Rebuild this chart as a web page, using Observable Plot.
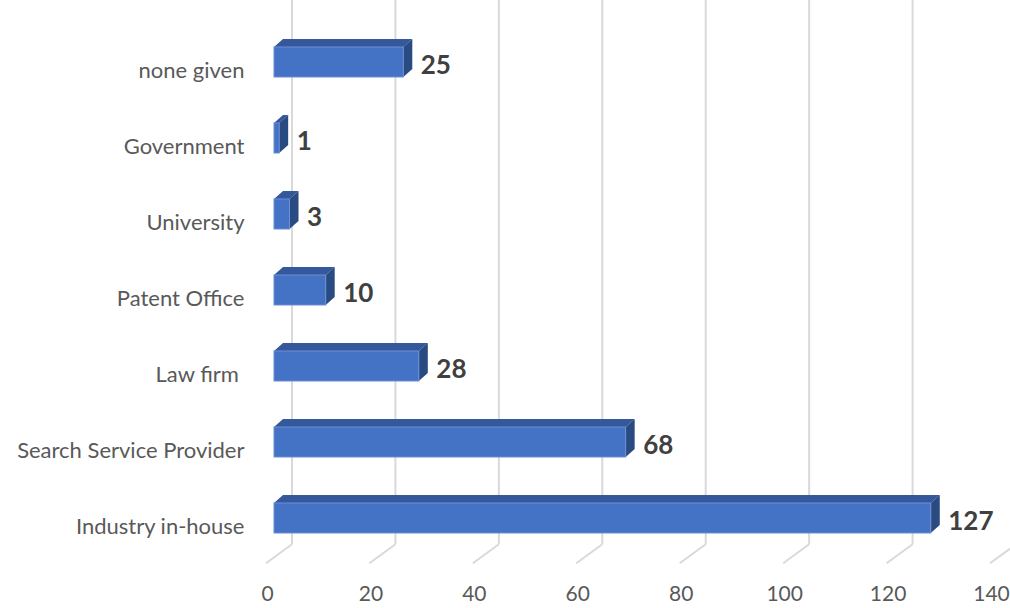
<!DOCTYPE html>
<html>
<head>
<meta charset="utf-8">
<script src="https://cdn.jsdelivr.net/npm/d3@7"></script>
<script src="https://cdn.jsdelivr.net/npm/@observablehq/plot@0.6"></script>
<style>
  html, body { margin: 0; padding: 0; background: #fff; }
  #chart svg { display: block; }
</style>
</head>
<body>
<div id="chart"></div>
<script>
const categories = ["none given", "Government", "University", "Patent Office", "Law firm ", "Search Service Provider", "Industry in-house"];
const values = [25, 1, 3, 10, 28, 68, 127];
const xTicks = [0, 20, 40, 60, 80, 100, 120, 140];

const data = categories.map((c, i) => ({category: c, value: values[i]}));

const FONT = "Lato, 'Open Sans', sans-serif";
const DEPTH_X = 9, DEPTH_Y = -8;

const gridMark = (index, scales, values_, dims) => {
  const g = d3.create("svg:g");
  const floorBack = dims.height - dims.marginBottom - 13;
  const floorFront = dims.height - dims.marginBottom + 6;
  for (const t of xTicks) {
    const x = scales.x(t);
    g.append("line").attr("x1", x + 18).attr("x2", x + 18).attr("y1", 0).attr("y2", floorBack)
      .attr("stroke", "#d9d9d9").attr("stroke-width", 2);
    g.append("line").attr("x1", x + 18).attr("x2", x - 8).attr("y1", floorBack).attr("y2", floorFront)
      .attr("stroke", "#d9d9d9").attr("stroke-width", 2);
  }
  return g.node();
};

const depthMark = (index, scales) => {
  const g = d3.create("svg:g");
  const bw = scales.y.bandwidth();
  for (const d of data) {
    const x0 = scales.x(0), x1 = scales.x(d.value);
    const top = scales.y(d.category), bot = top + bw;
    g.append("polygon")
      .attr("points", [[x0, top], [x1, top], [x1 + DEPTH_X, top + DEPTH_Y], [x0 + DEPTH_X, top + DEPTH_Y]].map(p => p.join(",")).join(" "))
      .attr("fill", "#34589b");
    g.append("polygon")
      .attr("points", [[x1, top], [x1 + DEPTH_X, top + DEPTH_Y], [x1 + DEPTH_X, bot + DEPTH_Y], [x1, bot]].map(p => p.join(",")).join(" "))
      .attr("fill", "#2a4a82");
  }
  return g.node();
};

const chart = Plot.plot({
  width: 1010,
  height: 608,
  marginLeft: 274,
  marginRight: 12,
  marginTop: 22.5,
  marginBottom: 50.7,
  style: {fontFamily: FONT, background: "#fff"},
  x: {domain: [0, 140], ticks: xTicks},
  y: {domain: categories, paddingInner: 0.607, paddingOuter: 0.304},
  marks: [
    gridMark,
    depthMark,
    Plot.barX(data, {x: "value", y: "category", fill: "#4472c4", stroke: "#6b8fd4", strokeWidth: 1}),
    Plot.text(data, {x: "value", y: "category", text: d => String(d.value), textAnchor: "start", dx: 17, dy: 3,
      fill: "#404040", fontSize: 26, fontWeight: "bold"}),
    Plot.axisY({tickSize: 0, tickPadding: 30, dy: 8, fontSize: 22, color: "#595959", label: null}),
    Plot.axisX({ticks: xTicks, tickSize: 0, tickPadding: 28, dx: -7, fontSize: 21, color: "#595959", label: null})
  ]
});
document.getElementById("chart").appendChild(chart);
</script>
</body>
</html>
